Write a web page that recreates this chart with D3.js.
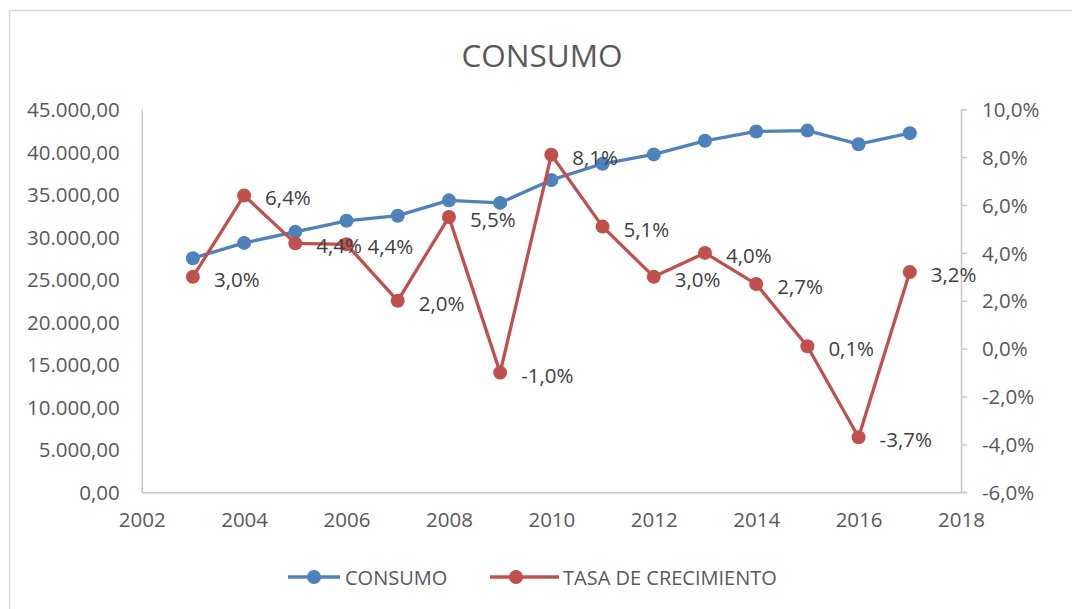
<!DOCTYPE html>
<html><head><meta charset="utf-8">
<script src="https://cdn.jsdelivr.net/npm/d3@7"></script>
<style>body{margin:0;background:#fff;} svg{display:block;font-family:"Open Sans",sans-serif;}</style>
</head><body>
<svg id="c" width="1072" height="609"></svg>
<script>
const years = [2003,2004,2005,2006,2007,2008,2009,2010,2011,2012,2013,2014,2015,2016,2017];
const consumo = [27500,29300,30600,31900,32500,34300,34000,36700,38600,39700,41300,42400,42500,40900,42200];
const tasa = [0.030,0.064,0.044,0.0436,0.020,0.055,-0.010,0.081,0.051,0.030,0.040,0.027,0.001,-0.037,0.032];
const xTicks = [2002,2004,2006,2008,2010,2012,2014,2016,2018];
const leftTicks = [0,5000,10000,15000,20000,25000,30000,35000,40000,45000];
const rightTicks = [-0.06,-0.04,-0.02,0,0.02,0.04,0.06,0.08,0.10];
const seriesNames = ["CONSUMO","TASA DE CRECIMIENTO"];
const colors = ["#4F81BD","#C0504D"];

const svg = d3.select("#c");
const L = 141.7, R = 961, T = 109.3, B = 492.3;
const x = d3.scaleLinear().domain([2002,2018]).range([L,R]);
const yL = d3.scaleLinear().domain([0,45000]).range([B,T]);
const yR = d3.scaleLinear().domain([-0.06,0.10]).range([B,T]);
const numFmt = d3.formatLocale({decimal:",",thousands:".",grouping:[3],currency:["",""],minus:"-"});
const fL = numFmt.format(",.2f");
const fP = numFmt.format(".1%");

// outer border
svg.append("rect").attr("x",9.5).attr("y",10.5).attr("width",1200).attr("height",800)
  .attr("fill","none").attr("stroke","#D9D9D9").attr("stroke-width",1.5);

// title
svg.append("text").attr("x",542).attr("y",54).attr("text-anchor","middle").attr("dominant-baseline","central")
  .attr("font-size",31.5).attr("fill","#595959").text("CONSUMO");

const axColor = "#C8C8C8";
const gL = svg.append("g").attr("transform",`translate(${L},0)`)
  .call(d3.axisLeft(yL).tickValues(leftTicks).tickFormat(fL).tickSize(0).tickPadding(22));
const gR = svg.append("g").attr("transform",`translate(${R},0)`)
  .call(d3.axisRight(yR).tickValues(rightTicks).tickFormat(fP).tickSizeInner(6).tickSizeOuter(0).tickPadding(15));
const gB = svg.append("g").attr("transform",`translate(0,${B})`)
  .call(d3.axisBottom(x).tickValues(xTicks).tickFormat(d3.format("d")).tickSize(0).tickPadding(20));
[gL,gR,gB].forEach(g=>{
  g.select(".domain").attr("stroke",axColor).attr("stroke-width",1.5);
  g.selectAll(".tick line").attr("stroke",axColor).attr("stroke-width",1.5);
  g.selectAll("text").attr("font-size",20.5).attr("fill","#595959").attr("font-family","Open Sans");
});
gL.selectAll(".tick text").attr("dy","0.35em");
gR.selectAll(".tick text").attr("dy","0.35em");
gB.selectAll(".tick text").attr("dy","0.71em");
svg.append("line").attr("x1",R).attr("x2",R+6).attr("y1",B).attr("y2",B).attr("stroke",axColor).attr("stroke-width",1.5);

const r = 7;
const lineL = d3.line().x((d,i)=>x(years[i])).y(d=>yL(d));
svg.append("path").attr("d",lineL(consumo)).attr("fill","none").attr("stroke",colors[0]).attr("stroke-width",3.3).attr("stroke-linejoin","round");
svg.selectAll(".pc").data(consumo).enter().append("circle")
  .attr("cx",(d,i)=>x(years[i])).attr("cy",d=>yL(d)).attr("r",r).attr("fill",colors[0]);

const lineR = d3.line().x((d,i)=>x(years[i])).y(d=>yR(d));
svg.append("path").attr("d",lineR(tasa)).attr("fill","none").attr("stroke",colors[1]).attr("stroke-width",3.3).attr("stroke-linejoin","round");
svg.selectAll(".pt").data(tasa).enter().append("circle")
  .attr("cx",(d,i)=>x(years[i])).attr("cy",d=>yR(d)).attr("r",r).attr("fill",colors[1]);
svg.selectAll(".lt").data(tasa).enter().append("text")
  .attr("x",(d,i)=>x(years[i])+21).attr("y",d=>yR(d)+2).attr("dominant-baseline","central")
  .attr("font-size",20.5).attr("fill","#404040").text(d=>fP(d));

const legend = [{x1:288,x2:340,cx:314,tx:345},{x1:490,x2:559,cx:516,tx:563}];
const ly = 577;
legend.forEach((l,i)=>{
  svg.append("line").attr("x1",l.x1).attr("x2",l.x2).attr("y1",ly).attr("y2",ly).attr("stroke",colors[i]).attr("stroke-width",3.3);
  svg.append("circle").attr("cx",l.cx).attr("cy",ly).attr("r",r).attr("fill",colors[i]);
  svg.append("text").attr("x",l.tx).attr("y",ly).attr("dominant-baseline","central").attr("font-size",20)
    .attr("fill","#595959").text(seriesNames[i]);
});
</script>
</body></html>
